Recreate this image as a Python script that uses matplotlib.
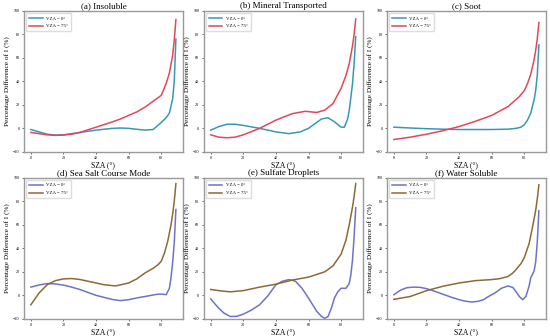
import matplotlib
matplotlib.use("Agg")
import matplotlib.pyplot as plt

plt.rcParams['font.family'] = ['Liberation Serif', 'DejaVu Serif']

# (a) Insoluble
a_x0 = [0, 5, 10, 15, 20, 25, 30, 40, 50, 55, 60, 65, 70, 75, 80, 83, 85, 87, 88, 89]
a_y0 = [-1, -3, -5, -5.7, -5.5, -4.5, -3.5, -1.5, 0, 0.3, 0, -0.8, -1.5, -1, 5, 9, 13, 25, 40, 76]
a_x75 = [0, 5, 10, 15, 20, 25, 30, 40, 50, 55, 60, 65, 70, 75, 80, 83, 85, 87, 88, 89]
a_y75 = [-3.5, -4.5, -5.5, -6, -5.7, -5, -3.5, 1, 5.5, 8, 11, 14, 18, 23, 28, 38, 47, 62, 75, 92.5]

# (b) Mineral Transported
b_x0 = [0, 5, 10, 15, 20, 30, 40, 48, 55, 60, 65, 68, 72, 76, 80, 82, 84, 85, 87, 88, 89]
b_y0 = [-1.5, 1.5, 3.5, 3.5, 2.5, 0, -3, -4.5, -3, 0, 5, 8, 9, 5.5, 1, 1, 8, 15, 38, 55, 78]
b_x75 = [0, 5, 10, 15, 20, 30, 40, 50, 58, 65, 70, 75, 80, 83, 85, 87, 88, 89]
b_y75 = [-5.5, -7.5, -8, -7.5, -5.5, 0, 7, 12.5, 14.5, 13.5, 15.5, 21, 34, 45, 55, 70, 80, 93]

# (c) Soot
c_x0 = [0, 10, 20, 30, 40, 50, 60, 70, 75, 78, 80, 82, 84, 86, 87, 88, 89]
c_y0 = [1, 0.3, -0.3, -0.7, -1, -1, -1, -0.7, 0, 1, 3, 7, 13, 24, 32, 45, 71]
c_x75 = [0, 10, 20, 30, 40, 50, 60, 70, 77, 80, 82, 84, 86, 87, 88, 89]
c_y75 = [-9.5, -7.5, -5, -2, 1.5, 6, 11, 18.5, 27, 32, 38, 46, 58, 66, 76, 90]

# (d) Sea Salt Course Mode
d_x0 = [0, 5, 10, 15, 20, 25, 30, 40, 50, 55, 60, 65, 70, 75, 78, 81, 83, 85, 86, 87, 88, 89]
d_y0 = [7, 8.8, 10, 9.7, 8.7, 7, 5, 0, -3.5, -4.5, -3.7, -2.2, -1, 0.3, 1, 1, 0.5, 6, 15, 28, 45, 73]
d_x75 = [0, 3, 5, 10, 15, 20, 25, 30, 35, 45, 52, 60, 65, 70, 75, 78, 80, 82, 84, 86, 87, 88, 89]
d_y75 = [-8, -2, 2, 9, 12.5, 14, 14.3, 13.5, 12, 9, 8, 10.5, 14, 19, 23, 26, 29, 36, 46, 60, 69, 80, 95]

# (e) Sulfate Droplets
e_x0 = [0, 3, 5, 8, 12, 16, 20, 25, 30, 35, 40, 44, 48, 52, 56, 60, 63, 65, 68, 70, 72, 74, 76, 78, 80, 83, 85, 86, 87, 88, 89]
e_y0 = [-3, -8, -11, -15, -18, -17.8, -16, -12.5, -8, -0.5, 9, 12, 13.4, 12, 6, -2.3, -9, -13.5, -18, -19.5, -18, -11, -2, 3, 6, 6, 10, 17.5, 30, 50, 74.5]
e_x75 = [0, 6, 12, 20, 30, 40, 50, 60, 70, 75, 80, 83, 85, 87, 88, 89]
e_y75 = [5, 3.8, 3, 4, 7, 9.5, 13, 15.5, 20, 25, 35, 47, 60, 75, 84, 95]

# (f) Water Soluble
f_x0 = [0, 3, 5, 8, 12, 16, 20, 25, 30, 35, 40, 44, 48, 52, 55, 58, 62, 66, 70, 73, 75, 77, 79, 81, 83, 84, 86, 87, 88, 89]
f_y0 = [0.5, 3.5, 5, 6.5, 7, 6.8, 5.7, 3.5, 1, -1.5, -3.7, -5, -5.7, -5, -3.7, -1, 2, 6, 8, 6.7, 3, -1, -3.7, -1, 8, 15, 20.5, 28, 45, 72]
f_x75 = [0, 10, 20, 30, 40, 50, 60, 65, 70, 73, 75, 78, 80, 83, 85, 87, 88, 89]
f_y75 = [-3.4, -1, 4, 7.7, 10.5, 12.5, 13.4, 14.2, 16, 19, 22, 27, 32, 44, 57.5, 72, 82, 94]

titles = ['(a) Insoluble', '(b) Mineral Transported', '(c) Soot',
          '(d) Sea Salt Course Mode', '(e) Sulfate Droplets', '(f) Water Soluble']
series = [(a_x0, a_y0, a_x75, a_y75), (b_x0, b_y0, b_x75, b_y75),
          (c_x0, c_y0, c_x75, c_y75), (d_x0, d_y0, d_x75, d_y75),
          (e_x0, e_y0, e_x75, e_y75), (f_x0, f_y0, f_x75, f_y75)]
top_colors = ['#3b97b6', '#e2475b']
bottom_colors = ['#6f73c6', '#8d6a34']

fig = plt.figure(figsize=(5.5, 3.36), dpi=100)
lefts = [0.043, 0.37, 0.703]
bottoms = [0.548, 0.051]
for i, (title, (x0, y0, x75, y75)) in enumerate(zip(titles, series)):
    row, col = divmod(i, 3)
    ax = fig.add_axes([lefts[col], bottoms[row], 0.29, 0.42])
    cols = top_colors if row == 0 else bottom_colors
    ax.plot(x0, y0, color=cols[0], lw=1.1, label='VZA = 0°')
    ax.plot(x75, y75, color=cols[1], lw=1.1, label='VZA = 75°')
    ax.set_xlim(-4.45, 93.45)
    ax.set_ylim(-20, 100)
    ax.set_xticks([0, 20, 40, 60, 80])
    ax.set_yticks([-20, 0, 20, 40, 60, 80, 100])
    ax.tick_params(labelsize=3, length=1.5, width=0.4, pad=1.5)
    ax.set_title(title, fontsize=6.5, pad=2)
    ax.set_xlabel('SZA (°)', fontsize=5.5, labelpad=1)
    ax.set_ylabel('Percentage Difference of I (%)', fontsize=5.2, labelpad=2)
    for s in ax.spines.values():
        s.set_color('#999999')
        s.set_linewidth(1.0)
    ax.legend(loc='upper left', fontsize=3.5, frameon=True, framealpha=1,
              edgecolor='#dddddd', handlelength=2.8, borderpad=0.6, labelspacing=0.7)

fig.savefig('out.png', dpi=100)
